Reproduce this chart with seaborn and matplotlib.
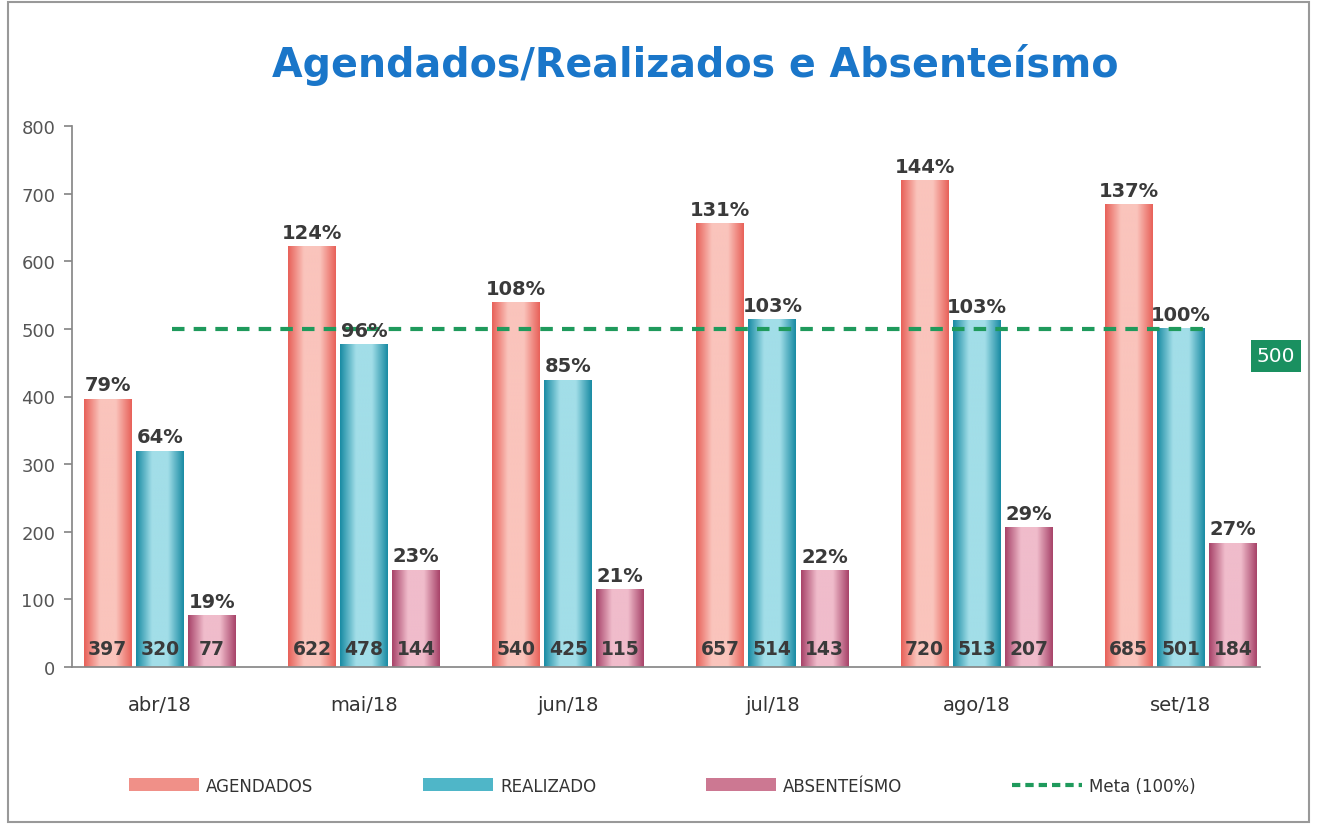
import numpy as np
import pandas as pd
import matplotlib
matplotlib.use("Agg")
import matplotlib.pyplot as plt
import seaborn as sns
from matplotlib.colors import LinearSegmentedColormap
from matplotlib.patches import Patch, Rectangle
from matplotlib.lines import Line2D

# ---- data ----
meses = ["abr/18", "mai/18", "jun/18", "jul/18", "ago/18", "set/18"]
series = ["AGENDADOS", "REALIZADO", "ABSENTEÍSMO"]
agendados = [397, 622, 540, 657, 720, 685]
realizado = [320, 478, 425, 514, 513, 501]
absenteismo = [77, 144, 115, 143, 207, 184]
pct_agendados = ["79%", "124%", "108%", "131%", "144%", "137%"]
pct_realizado = ["64%", "96%", "85%", "103%", "103%", "100%"]
pct_absenteismo = ["19%", "23%", "21%", "22%", "29%", "27%"]
meta = 500
meta_label = "Meta (100%)"
titulo = "Agendados/Realizados e Absenteísmo"

df = pd.DataFrame({
    "mes": meses * 3,
    "serie": [series[0]] * 6 + [series[1]] * 6 + [series[2]] * 6,
    "valor": agendados + realizado + absenteismo,
})
valores = [agendados, realizado, absenteismo]
pcts = [pct_agendados, pct_realizado, pct_absenteismo]

# ---- style ----
edge_cols = ["#e8625a", "#1a8ca4", "#a8446a"]
light_cols = ["#fac4bc", "#a2dee8", "#f0bccb"]
mid_cols = ["#f09088", "#4fb6c8", "#cc7892"]
palette = dict(zip(series, mid_cols))

sns.set_theme(style="white")
plt.rcParams["font.family"] = ["DejaVu Sans"]

fig = plt.figure(figsize=(13.17, 8.28), dpi=100)
ax = fig.add_axes([72 / 1317, 1 - 668 / 828, (1260 - 72) / 1317, (668 - 127) / 828])

sns.barplot(data=df, x="mes", y="valor", hue="serie", palette=palette,
            width=0.765, gap=0.08, saturation=1, legend=False, ax=ax,
            order=meses, hue_order=series)

xlim = (-0.43, -0.43 + (1260 - 72) / 204.2)
ax.set_xlim(*xlim)
ax.set_ylim(0, 800)

# gradient fill for each bar
for i, cont in enumerate(ax.containers):
    cmap = LinearSegmentedColormap.from_list(
        f"g{i}", [edge_cols[i], light_cols[i], light_cols[i], edge_cols[i]])
    grad = np.linspace(0, 1, 64).reshape(1, -1)
    for p in cont.patches:
        x0, y0 = p.get_x(), p.get_y()
        w, h = p.get_width(), p.get_height()
        im = ax.imshow(grad, cmap=cmap, extent=[x0, x0 + w, y0, y0 + h],
                       aspect="auto", origin="lower", zorder=p.get_zorder() + 0.1,
                       interpolation="bicubic")
        im.set_clip_path(p)
ax.set_xlim(*xlim)
ax.set_ylim(0, 800)

# labels
for i, cont in enumerate(ax.containers):
    ax.bar_label(cont, labels=pcts[i], padding=3, fontsize=14,
                 fontweight="bold", color="#3a3a3a", zorder=5)
    for p, v in zip(cont.patches, valores[i]):
        ax.text(p.get_x() + p.get_width() / 2, 28, str(v), ha="center",
                va="center", fontsize=13.5, fontweight="bold", color="#3a3a3a",
                zorder=6)

# meta line
ax.plot([0.06, 5.12], [meta, meta], color="#1f9a5c", lw=3, ls=(0, (3, 2.2)),
        zorder=4)
fig.text(1276 / 1317, 1 - 357 / 828, str(meta), ha="center", va="center",
         fontsize=14.5, color="white",
         bbox=dict(boxstyle="square,pad=0.3", fc="#1a9060", ec="none"))

# axes styling
for s in ["top", "right"]:
    ax.spines[s].set_visible(False)
ax.spines["left"].set_color("#888888")
ax.spines["bottom"].set_color("#888888")
ax.set_yticks(range(0, 801, 100))
ax.tick_params(axis="y", left=True, length=6, color="#888888",
               labelsize=13, labelcolor="#555555", pad=6)
ax.tick_params(axis="x", bottom=False, labelsize=14, labelcolor="#333333", pad=14)
ax.set_xlabel("")
ax.set_ylabel("")

fig.text(0.528, 0.922, titulo, ha="center", va="center", fontsize=28.5,
         fontweight="bold", color="#1a76c9")

handles = [Patch(facecolor=mid_cols[i], edgecolor="none", label=series[i]) for i in range(3)]
handles.append(Line2D([0], [0], color="#1f9a5c", lw=3, ls=(0, (2, 1.2)), label=meta_label))
fig.legend(handles=handles, loc="center", bbox_to_anchor=(0.503, 0.05), ncol=4,
           frameon=False, fontsize=12, handlelength=4.2, handleheight=0.8,
           columnspacing=6.6, handletextpad=0.4, labelcolor="#333333")

fig.patches.append(Rectangle((0.006, 0.006), 0.988, 0.99, transform=fig.transFigure,
                             fill=False, ec="#999999", lw=1.5))

fig.savefig("out.png", dpi=100)
